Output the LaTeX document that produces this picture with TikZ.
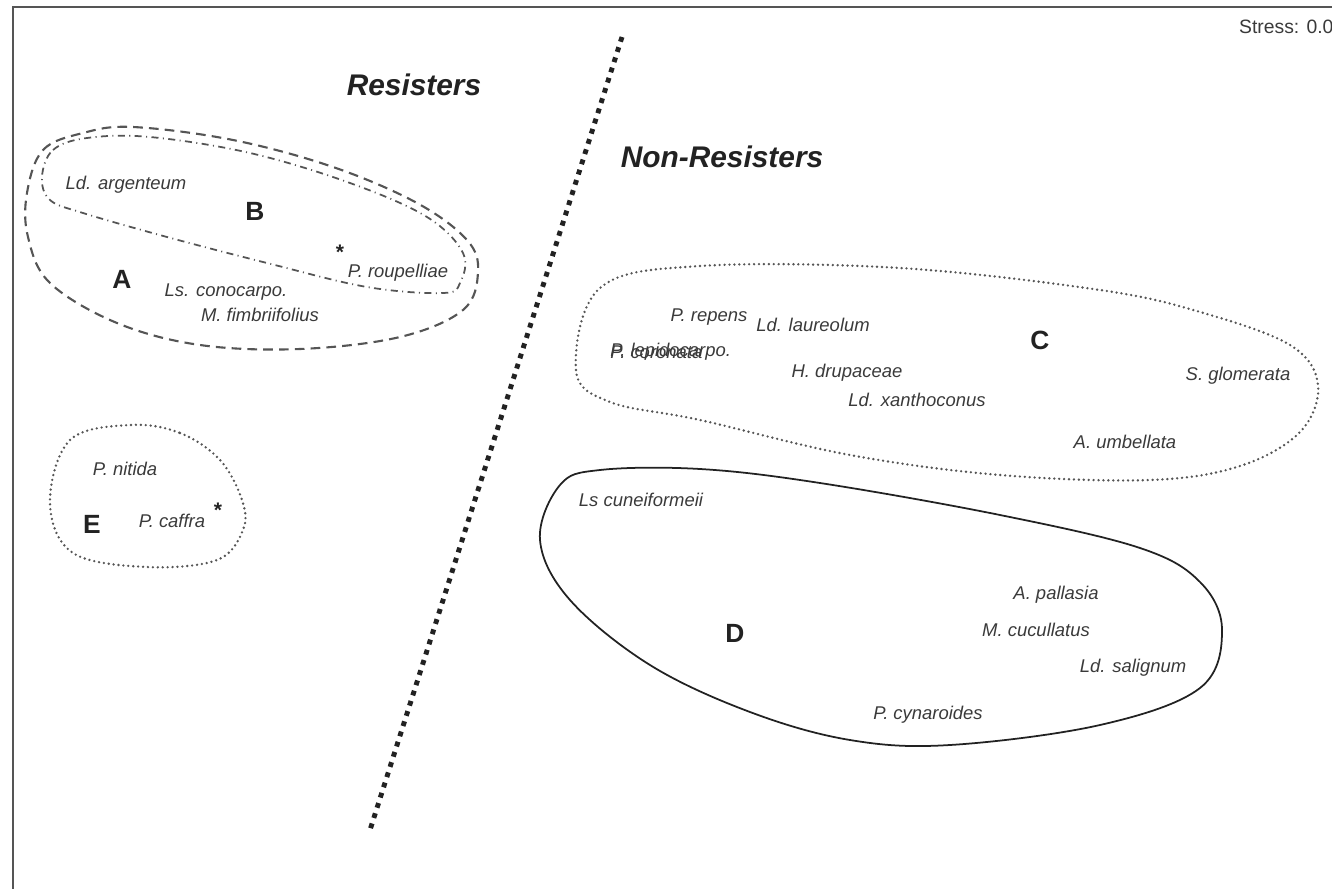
\documentclass[tikz,border=0pt]{standalone}
\usepackage{fontspec}
\setmainfont{Liberation Sans}
\usetikzlibrary{positioning}
\definecolor{nmtext}{HTML}{3A3A3A}
\definecolor{nmline}{HTML}{555555}
\definecolor{nmdark}{HTML}{222222}

\begin{document}
\begin{tikzpicture}[x=0.02cm, y=-0.02cm,
  spp/.style={font=\fontsize{10.5}{12}\selectfont\itshape, text=nmtext, inner sep=0pt},
  grp/.style={font=\fontsize{15}{18}\selectfont\bfseries, text=nmdark, inner sep=0pt},
  side/.style={font=\fontsize{17}{20}\selectfont\bfseries\itshape, text=nmdark, inner sep=0pt},
  star/.style={font=\fontsize{12}{12}\selectfont\bfseries, text=nmdark, inner sep=0pt},
  dashloop/.style={draw=nmline, line width=1.2pt, dash pattern=on 5.5pt off 3.5pt},
  dotloop/.style={draw=nmline, line width=1.5pt, dash pattern=on 0pt off 2.8pt, line cap=round},
  dashdotloop/.style={draw=nmline, line width=1pt, dash pattern=on 4pt off 2.5pt on 0.6pt off 2.5pt},
  solidloop/.style={draw=nmdark, line width=1pt}]
  \useasboundingbox (0,0) rectangle (1332,889);
  \clip (0,0) rectangle (1332,889);

  % frame
  \coordinate (fbl) at (13,889);
  \coordinate (ftl) at (13,7);
  \coordinate (ftr) at (1332,7);
  \draw[nmline, line width=1.1pt] (fbl) -- (ftl) -- (ftr);
  \node[font=\fontsize{11}{13}\selectfont, text=nmtext, anchor=west] (stress) at (1233,27) {Stress: 0.09};

  % divider
  \coordinate (divtop) at (622,37);
  \coordinate (divbot) at (370,830);
  \draw[nmdark, line width=2.8pt, dash pattern=on 2.8pt off 3.3pt] (divtop) -- (divbot);

  \node[side] (res) at (414,85) {Resisters};
  \node[side] (nonres) at (722,157) {Non-Resisters};

  % group A and B
  \draw[dashloop] plot[smooth cycle, tension=0.6] coordinates {
    (27,193) (43,150) (83,133) (133,127) (233,140) (333,167) (417,203) (467,240)
    (478,272) (463,310) (400,337) (300,349) (200,345) (117,323) (50,283) (28,237)};
  \draw[dashdotloop] plot[smooth cycle, tension=0.6] coordinates {
    (42,177) (53,150) (87,138) (150,137) (250,153) (350,183) (427,217) (463,253)
    (460,283) (443,293) (367,287) (267,263) (167,237) (83,213) (50,200)};
  \node[spp] (argent) at (126,185) {Ld. argenteum};
  \node[grp] (grpB) at (255,211) {B};
  \node[star] (starB) at (340,252) {*};
  \node[spp] (roupel) at (398,273) {P. roupelliae};
  \node[grp] (grpA) at (122,279) {A};
  \node[spp] (conoc) at (226,292) {Ls. conocarpo.};
  \node[spp] (fimbr) at (260,315) {M. fimbriifolius};

  % group E
  \draw[dotloop] plot[smooth cycle, tension=0.6] coordinates {
    (130,425) (180,433) (220,460) (242,500) (243,530) (217,560) (147,567)
    (73,553) (50,503) (70,440)};
  \node[spp] (nitida) at (125,469) {P. nitida};
  \node[grp] (grpE) at (92,524) {E};
  \node[spp] (caffra) at (172,521) {P. caffra};
  \node[star] (starE) at (218,510) {*};

  % group C
  \draw[dotloop] plot[smooth cycle, tension=0.6] coordinates {
    (600,288) (700,266) (900,268) (1100,290) (1200,312) (1290,345) (1318,385)
    (1300,432) (1240,466) (1150,480) (1000,475) (850,455) (700,420) (610,402) (576,370)};
  \node[spp] (repens) at (709,317) {P. repens};
  \node[spp] (laureo) at (813,325) {Ld. laureolum};
  \node[spp, anchor=west] (lepido) at (610,352) {P. lepidocarpo.};
  \node[spp, anchor=west] (coron) at (610,352) {P. coronata};
  \node[spp] (drupa) at (847,373) {H. drupaceae};
  \node[spp] (xanth) at (917,400) {Ld. xanthoconus};
  \node[grp] (grpC) at (1040,340) {C};
  \node[spp] (glomer) at (1238,376) {S. glomerata};
  \node[spp] (umbel) at (1125,442) {A. umbellata};

  % group D
  \draw[solidloop] plot[smooth cycle, tension=0.6] coordinates {
    (560,485) (600,470) (700,469) (820,483) (1000,515) (1140,548) (1200,582)
    (1222,630) (1200,688) (1100,725) (950,745) (850,740) (750,712) (650,665) (570,600) (540,540)};
  \node[spp] (cuneif) at (641,500) {Ls cuneiformeii};
  \node[grp] (grpD) at (735,633) {D};
  \node[spp] (pallas) at (1056,595) {A. pallasia};
  \node[spp] (cucul) at (1036,630) {M. cucullatus};
  \node[spp] (salig) at (1133,668) {Ld. salignum};
  \node[spp] (cynar) at (928,715) {P. cynaroides};
\end{tikzpicture}
\end{document}
